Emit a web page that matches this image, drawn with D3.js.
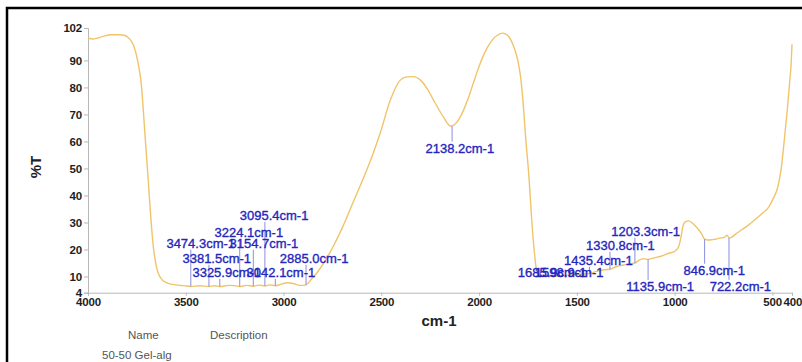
<!DOCTYPE html>
<html>
<head>
<meta charset="utf-8">
<script src="https://cdnjs.cloudflare.com/ajax/libs/d3/7.8.5/d3.min.js"></script>
<style>
body { margin: 0; background: #fff; }
text { font-family: Arial, "Liberation Sans", sans-serif; }
</style>
</head>
<body>
<script>
//****************************************************************************************************************************//
// Data

var wavenumber = [4000,3975,3950,3920,3880,3840,3815,3795,3780,3764,3745,3728,3709,3692,3680,3666,3655,3646,3633,3620,
	3600,3569,3540,3510,3474,3430,3381,3355,3326,3280,3250,3224,3190,3155,3125,3095,3070,3042,3010,2980,
	2950,2915,2885,2860,2830,2790,2747,2700,2650,2600,2550,2506,2454,2403,2370,2336,2300,2265,2233,2182,
	2146,2125,2105,2080,2059,2030,2007,1980,1956,1930,1905,1879,1855,1838,1820,1802,1788,1776,1761,1745,
	1732,1720,1709,1699,1685,1650,1599,1560,1500,1470,1435,1400,1360,1331,1300,1250,1203,1185,1160,1136,
	1110,1070,1030,1000,980,968,958,945,929,910,895,880,862,847,830,810,795,770,744,732,
	722,712,690,657,620,590,550,519,495,475,467,455,440,425,412,405,400];
var transmittance = [98.3,97.9,98.3,99.0,99.5,99.5,99.3,98.5,97.3,95.0,89.5,81.6,63,45.7,33,21,15.5,12.4,10,8.7,
	7.7,7.1,6.8,6.6,6.3,6.6,6.3,6.6,6.3,6.7,6.6,6.3,6.7,6.4,6.8,6.5,6.9,6.6,7.2,7.7,
	7.4,6.7,6.9,8.8,11.3,15.5,21,28,36.5,45,54,63,75.3,82.7,83.9,84,82.7,79.5,75.3,69,
	65.7,66.3,68,71.5,75.3,81.5,86.4,91.5,95,97.8,99.4,100.1,99.3,97.6,94.5,90,84,75.3,60.5,46.8,
	32,21,13.5,10.6,10.2,10.4,10.1,10.4,10.8,10.9,11.1,11.9,12.5,12.7,13.6,14.4,15.0,15.9,16.6,16.3,
	16.8,17.5,18.6,19.3,21,24.5,28.5,30.3,30.6,29.8,28.8,27.5,25.8,23.8,23.5,23.6,23.8,24.2,24.6,25.3,
	24.3,24.4,25.6,27.3,29.2,31,33.5,35.7,39,42.5,45,50,60,71,82,88,96];

var peakWavenumber = [3474.3,3381.5,3325.9,3224.1,3154.7,3095.4,3042.1,2885.0,2138.2,1685.9,1598.9,1435.4,1330.8,1203.3,1135.9,846.9,722.2];
var peakTransmittance = [6.3,6.3,6.3,6.3,6.4,6.5,6.6,6.9,65.7,10.2,10.1,11.1,12.7,15.0,16.3,23.8,24.3];

var xTicks = [4000,3500,3000,2500,2000,1500,1000,500,400];
var yTicks = [4,10,20,30,40,50,60,70,80,90,102];

var legendHeads = ["Name", "Description"];
var sampleName = "50-50 Gel-alg";

// where each peak label sits, in [cm-1, %T] of its left/middle point
var labelAt = [[3599,22.4],[3517,16.8],[3466,11.6],[3353,26.4],[3276,22.4],[3224,32.7],[3189,11.6],[3019,16.8],
	[2274,57.6],[1802,11.6],[1715,11.6],[1566,16.1],[1453,21.6],[1324,26.8],[1247,6.4],[955,12.4],[821,6.4]];

//****************************************************************************************************************************//
// Canvas

var width = 802, height = 362;
var canvas = d3.select("body").append("svg")
				.attr("width", width)
				.attr("height", height);

canvas.append("path")
		.attr("d", "M7," + height + " V8 H" + width)
		.attr("fill", "none")
		.attr("stroke", "black")
		.attr("stroke-width", 2.5);

var xScale = d3.scaleLinear().domain([4000, 400]).range([88, 792]);
var yScale = d3.scaleLinear().domain([4, 102]).range([292.7, 28]);

//****************************************************************************************************************************//
// Axes

var xAxis = d3.axisBottom(xScale).tickValues(xTicks).tickSize(3).tickPadding(2).tickFormat(d3.format("d"));
var xAxisGroup = canvas.append("g")
						.attr("transform", "translate(0," + yScale(4) + ")")
						.call(xAxis);

var yAxis = d3.axisLeft(yScale).tickValues(yTicks).tickSize(4).tickPadding(2).tickFormat(d3.format("d"));
var yAxisGroup = canvas.append("g")
						.attr("transform", "translate(" + xScale(4000) + ",0)")
						.call(yAxis);

[xAxisGroup, yAxisGroup].forEach(function(g){
	g.select(".domain").attr("stroke", "#b8b8b8");
	g.selectAll(".tick line").attr("stroke", "#b8b8b8");
	g.selectAll(".tick text")
		.attr("fill", "#1e1e1e")
		.style("font-size", "11.5px")
		.style("font-weight", "bold")
		.style("letter-spacing", "-0.2px");
});

// 500 and 400 sit almost on top of each other in the reference
xAxisGroup.selectAll(".tick text")
		.attr("text-anchor", function(d){ return d == 500 ? "end" : (d == 400 ? "start" : "middle"); })
		.attr("dx", function(d){ return d == 500 ? 9 : (d == 400 ? -9 : 0); });

canvas.append("text")
		.attr("transform", "translate(41,167) rotate(-90)")
		.attr("text-anchor", "middle")
		.style("font-size", "15px")
		.style("font-weight", "bold")
		.attr("fill", "#222")
		.text("%T");

canvas.append("text")
		.attr("x", 439)
		.attr("y", 326)
		.attr("text-anchor", "middle")
		.style("font-size", "15px")
		.style("font-weight", "bold")
		.attr("fill", "#222")
		.text("cm-1");

//****************************************************************************************************************************//
// Spectrum

var spectrum = wavenumber.map(function(w, i){ return [w, transmittance[i]]; });

var line = d3.line()
			.x(function(d){ return xScale(d[0]); })
			.y(function(d){ return yScale(d[1]); })
			.curve(d3.curveMonotoneX);

canvas.append("path")
		.attr("d", line(spectrum))
		.attr("fill", "none")
		.attr("stroke", "#f0c46a")
		.attr("stroke-width", 1.4);

//****************************************************************************************************************************//
// Peak labels

var labels = canvas.append("g");
var leaders = labels.append("g");

peakWavenumber.forEach(function(p, i){
	var px = xScale(p), py = yScale(peakTransmittance[i]);
	var t = labels.append("text")
			.attr("x", xScale(labelAt[i][0]))
			.attr("y", yScale(labelAt[i][1]))
			.attr("dy", "0.36em")
			.attr("fill", "#2525bd")
			.attr("stroke", "#2525bd")
			.attr("stroke-width", 0.35)
			.style("font-size", "13px")
			.text(p.toFixed(1) + "cm-1");
	var b = t.node().getBBox();
	var lx = Math.max(b.x + 2, Math.min(b.x + b.width - 2, px));
	var ly = py > b.y + b.height ? b.y + b.height - 1 : (py < b.y ? b.y + 1 : b.y + b.height / 2);
	leaders.append("line")
		.attr("x1", px).attr("y1", py)
		.attr("x2", lx).attr("y2", ly)
		.attr("stroke", "#8d8de0")
		.attr("stroke-width", 1);
});

//****************************************************************************************************************************//
// Legend

canvas.selectAll(".legendHead")
		.data(legendHeads)
		.enter().append("text")
		.attr("x", function(d, i){ return i == 0 ? 128 : 210; })
		.attr("y", 339)
		.attr("fill", "#555")
		.style("font-size", "11.5px")
		.text(function(d){ return d; });

canvas.append("text")
		.attr("x", 102)
		.attr("y", 359)
		.attr("fill", "#555")
		.style("font-size", "11.5px")
		.text(sampleName);

</script>
</body>
</html>
